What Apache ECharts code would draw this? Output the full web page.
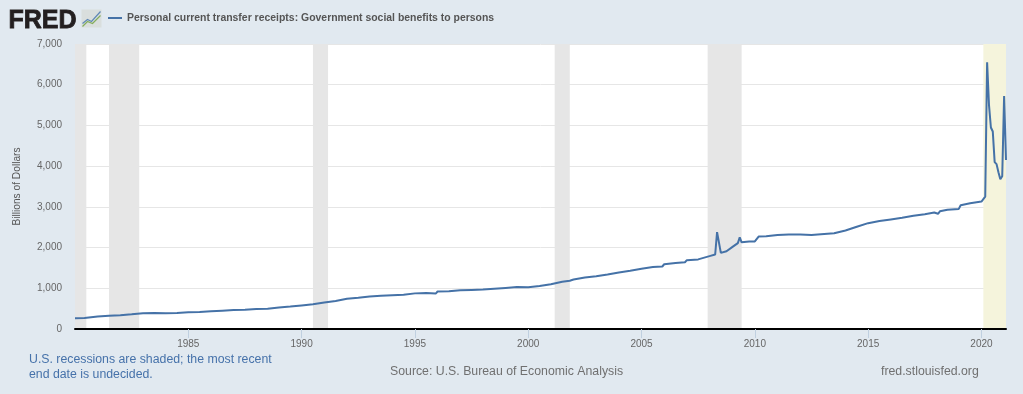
<!DOCTYPE html>
<html>
<head>
<meta charset="utf-8">
<style>html,body{margin:0;padding:0;background:#e1e9f0}#c{width:1023px;height:394px}</style>
<script src="https://cdn.jsdelivr.net/npm/echarts@6/dist/echarts.min.js"></script>
</head>
<body>
<div id="c"></div>
<script>
const seriesName = 'Personal current transfer receipts: Government social benefits to persons';
const dates = ['1980-01','1980-06','1980-07','1981-01','1981-07','1982-01','1982-07','1983-01','1983-07','1984-01','1984-07','1985-01','1985-07','1986-01','1986-07','1987-01','1987-07','1988-01','1988-07','1989-01','1989-07','1990-01','1990-07','1991-01','1991-07','1992-01','1992-07','1993-01','1993-07','1994-01','1994-07','1995-01','1995-07','1995-12','1996-01','1996-07','1997-01','1997-07','1998-01','1998-07','1999-01','1999-07','2000-01','2000-07','2001-01','2001-07','2001-11','2002-01','2002-07','2003-01','2003-07','2004-01','2004-07','2005-01','2005-07','2005-12','2006-01','2006-07','2006-12','2007-01','2007-07','2008-01','2008-04','2008-05','2008-07','2008-10','2009-01','2009-04','2009-05','2009-06','2009-10','2010-01','2010-03','2010-07','2011-01','2011-07','2012-01','2012-07','2012-12','2013-01','2013-07','2014-01','2014-07','2015-01','2015-07','2016-01','2016-07','2017-01','2017-07','2017-12','2018-02','2018-03','2018-07','2019-01','2019-02','2019-07','2020-01','2020-02','2020-03','2020-04','2020-05','2020-06','2020-07','2020-08','2020-09','2020-10','2020-11','2020-12','2021-01','2021-02'];
const values = [265,270,295,305,325,340,360,385,395,385,395,410,420,435,450,465,470,490,500,530,550,580,610,650,690,745,770,800,815,830,840,875,885,870,920,925,950,960,970,990,1010,1030,1025,1055,1100,1160,1185,1215,1265,1295,1340,1390,1430,1480,1520,1535,1590,1620,1640,1690,1710,1790,1830,2380,1870,1910,2010,2110,2250,2130,2150,2150,2270,2280,2310,2320,2320,2310,2330,2300,2350,2420,2510,2600,2650,2690,2730,2780,2820,2860,2830,2890,2930,2950,3040,3090,3130,3170,3250,6550,5500,4950,4850,4100,4050,3850,3680,3750,5720,4150];
const yTicks = [0,1000,2000,3000,4000,5000,6000,7000];
const xTickYears = [1985,1990,1995,2000,2005,2010,2015,2020];
const grayRecessions = [['1980-01','1980-07'],['1981-07','1982-11'],['1990-07','1991-03'],['2001-03','2001-11'],['2007-12','2009-06']];
const openRecession = ['2020-02','2021-02'];
const noteLines = 'U.S. recessions are shaded; the most recent\nend date is undecided.';
const sourceText = 'Source: U.S. Bureau of Economic Analysis';
const siteText = 'fred.stlouisfed.org';

const yr = s => { const p = s.split('-'); return +p[0] + (+p[1] - 1) / 12; };
const font = '"Liberation Sans", Arial, sans-serif';
const chart = echarts.init(document.getElementById('c'), null, {renderer:'canvas'});
chart.setOption({
  animation: false,
  backgroundColor: '#e1e9f0',
  textStyle: {fontFamily: font},
  legend: {
    left: 103, top: 8, itemWidth: 14, itemHeight: 2, itemGap: 5,
    textStyle: {fontSize: 10.45, fontWeight: 'bold', color: '#555', fontFamily: font},
    data: [{name: seriesName, icon: 'rect'}]
  },
  grid: {left: 75, right: 17, top: 44, bottom: 65, show: true, backgroundColor: '#ffffff', borderWidth: 0},
  xAxis: {
    type: 'value', min: yr('1980-01'), max: yr('2021-02'), z: 8,
    splitLine: {show: false},
    axisLine: {show: true, onZero: false, lineStyle: {color: '#000', width: 2}},
    axisTick: {show: true, length: 9, customValues: xTickYears, lineStyle: {color: '#c0d0e0', width: 1}},
    axisLabel: {show: true, customValues: xTickYears, margin: 10, fontSize: 10, color: '#666', fontFamily: font,
      formatter: v => String(v)}
  },
  yAxis: {
    type: 'value', min: 0, max: 7000, interval: 1000,
    name: 'Billions of Dollars', nameLocation: 'middle', nameGap: 53, nameRotate: 90,
    nameTextStyle: {fontSize: 10.2, color: '#555', fontFamily: font},
    axisLine: {show: false}, axisTick: {show: false},
    splitLine: {lineStyle: {color: '#e6e6e6', width: 1}},
    axisLabel: {margin: 13, fontSize: 10, color: '#666', fontFamily: font, padding: [3, 0, 0, 0],
      formatter: v => yTicks.includes(v) ? v.toLocaleString('en-US') : ''}
  },
  series: [{
    name: seriesName, type: 'line', showSymbol: false, smooth: false,
    lineStyle: {color: '#4572a7', width: 2}, itemStyle: {color: '#4572a7'},
    data: dates.map((d, i) => [yr(d), values[i]]),
    z: 5,
    markArea: {
      silent: true, z: 1,
      data: grayRecessions.map(r => [
        {xAxis: yr(r[0]), itemStyle: {color: '#e6e6e6'}}, {xAxis: yr(r[1])}
      ]).concat([[{xAxis: yr(openRecession[0]), itemStyle: {color: '#f5f4dc'}}, {xAxis: yr(openRecession[1])}]]),
      label: {show: false}
    }
  }],
  graphic: [
    {type:'text', left: 8, top: 8, style: {text:'FRED', font:'900 25px "Liberation Sans", Arial, sans-serif', fill:'#231f20', stroke:'#231f20', lineWidth:0.8}},
    {type:'group', left: 80, top: 9, children: [
      {type:'rect', shape:{x:0,y:0,width:20,height:18}, style:{fill:'#d9dedd'}},
      {type:'polyline', shape:{points:[[1,14],[6,10],[10,12],[19,2]]}, style:{stroke:'#5f88b5',fill:null,lineWidth:1.2}},
      {type:'polyline', shape:{points:[[1,17],[6,12],[11,14],[19,6]]}, style:{stroke:'#83ad5c',fill:null,lineWidth:1.2}}
    ]},
    {type:'text', left: 29, top: 352, style: {text: noteLines, font:'12.3px "Liberation Sans", Arial, sans-serif', fill:'#4672aa', lineHeight:15}},
    {type:'text', left: 390, top: 366, style: {text: sourceText, font:'12.3px "Liberation Sans", Arial, sans-serif', fill:'#707070'}},
    {type:'text', left: 881, top: 366, style: {text: siteText, font:'12.3px "Liberation Sans", Arial, sans-serif', fill:'#707070'}}
  ]
});
</script>
</body>
</html>
